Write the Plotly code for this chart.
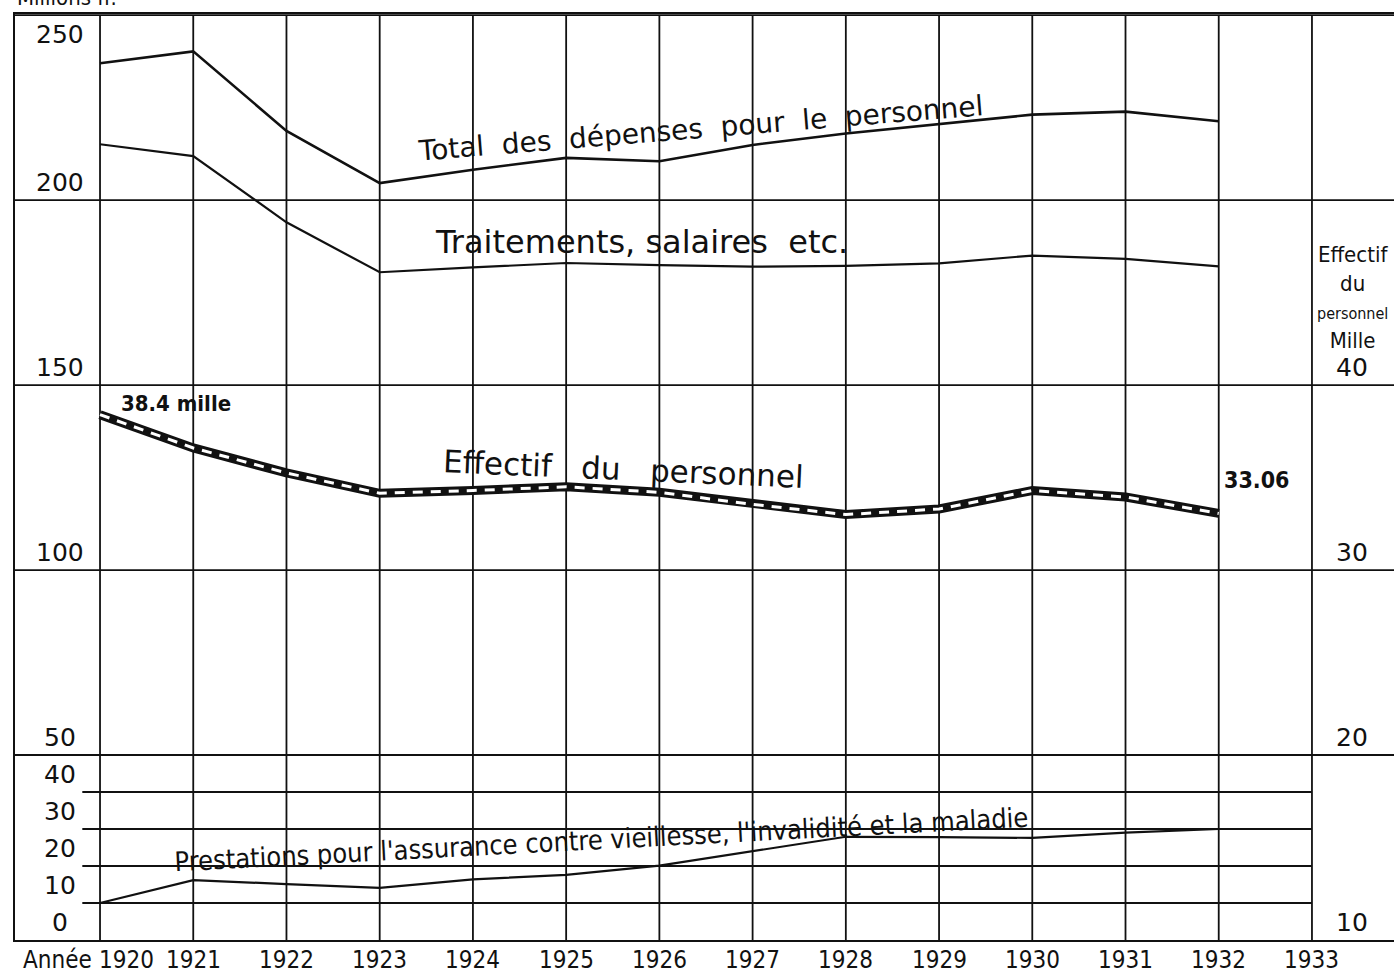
import plotly.graph_objects as go

# ---------------- data ----------------
years = [1920, 1921, 1922, 1923, 1924, 1925, 1926, 1927, 1928, 1929, 1930, 1931, 1932]
total_depenses = [237.0, 240.2, 218.7, 204.6, 208.2, 211.4, 210.5, 214.9, 218.0, 220.6, 223.1, 223.9, 221.3]
traitements = [215.1, 211.9, 194.0, 180.5, 181.8, 183.0, 182.4, 182.0, 182.2, 182.9, 185.0, 184.1, 182.1]
prestations = [10.0, 16.2, 15.1, 14.1, 16.4, 17.6, 20.1, 23.9, 27.9, 27.8, 27.6, 29.0, 30.0]
effectif_mille = [38.4, 36.6, 35.25, 34.15, 34.3, 34.5, 34.2, 33.55, 33.0, 33.3, 34.3, 33.95, 33.06]

year_ticks = [1920, 1921, 1922, 1923, 1924, 1925, 1926, 1927, 1928, 1929, 1930, 1931, 1932, 1933]
left_ticks_upper = [50, 100, 150, 200, 250]
left_ticks_lower = [0, 10, 20, 30, 40]
right_ticks = [10, 20, 30, 40]

# ---------------- style ----------------
NARROW = "Liberation Sans Narrow, DejaVu Sans Condensed, Arial Narrow, DejaVu Sans, sans-serif"
SANS = "DejaVu Sans, Verdana, sans-serif"
X_RANGE = [1919.088, 1933.88]
Y_RANGE = [0, 250.3]
Y2_RANGE = [10 + Y_RANGE[0] / 5, 10 + Y_RANGE[1] / 5]
LC = "#111111"

fig = go.Figure()

fig.add_trace(go.Scatter(x=years, y=total_depenses, mode="lines",
                         line=dict(color=LC, width=2.6), hoverinfo="skip", showlegend=False))
fig.add_trace(go.Scatter(x=years, y=traitements, mode="lines",
                         line=dict(color=LC, width=2.2), hoverinfo="skip", showlegend=False))
fig.add_trace(go.Scatter(x=years, y=prestations, mode="lines",
                         line=dict(color=LC, width=2.2), hoverinfo="skip", showlegend=False))
# Effectif: thick black band with white dashes inside
fig.add_trace(go.Scatter(x=years, y=effectif_mille, mode="lines", yaxis="y2",
                         line=dict(color=LC, width=9), hoverinfo="skip", showlegend=False))
fig.add_trace(go.Scatter(x=years, y=effectif_mille, mode="lines", yaxis="y2",
                         line=dict(color="white", width=3, dash="10px,8px"),
                         hoverinfo="skip", showlegend=False))

shapes = []
# vertical grid lines
for yr in year_ticks:
    shapes.append(dict(type="line", xref="x", yref="y", x0=yr, x1=yr, y0=0, y1=250,
                       line=dict(color=LC, width=1.8), layer="below"))
# full-width horizontal grid lines
for v in left_ticks_upper:
    shapes.append(dict(type="line", xref="paper", yref="y", x0=0, x1=1, y0=v, y1=v,
                       line=dict(color=LC, width=1.8), layer="below"))
# short lower grid lines (10..40)
for v in left_ticks_lower[1:]:
    shapes.append(dict(type="line", xref="x", yref="y", x0=1919.81, x1=1933, y0=v, y1=v,
                       line=dict(color=LC, width=1.8), layer="below"))

annotations = []
# left tick labels
for v in left_ticks_upper + left_ticks_lower:
    annotations.append(dict(x=1919.571, y=v, xref="x", yref="y", text=str(v), showarrow=False,
                            xanchor="center", yanchor="top" if v == 250 else "bottom",
                            yshift=-3 if v == 250 else 1,
                            font=dict(family=SANS, size=25, color=LC)))
# right tick labels
for v in right_ticks:
    annotations.append(dict(x=1933.43, y=v, xref="x", yref="y2", text=str(v), showarrow=False,
                            xanchor="center", yanchor="bottom", yshift=1,
                            font=dict(family=SANS, size=25, color=LC)))
# right axis title
annotations.append(dict(x=1933.43, y=40, xref="x", yref="y2",
                        text=("Effectif<br>du<br><span style='font-size:16px'>personnel</span>"
                              "<br>Mille"),
                        showarrow=False, xanchor="center", yanchor="bottom", align="center",
                        yshift=30, font=dict(family=NARROW, size=22, color=LC)))
# unit title (cut at the top edge like the original)
annotations.append(dict(x=0, y=1.0022, xref="paper", yref="paper", text="Millions fr.",
                        showarrow=False, xanchor="left", yanchor="bottom",
                        font=dict(family=NARROW, size=22, color=LC)))
# x-axis labels: "Année" then the years
annotations.append(dict(x=year_ticks[0], y=0, xref="x", yref="paper", text="Année",
                        showarrow=False, xanchor="right", yanchor="top", xshift=-6, yshift=-4,
                        font=dict(family=NARROW, size=24, color=LC)))
for i, yr in enumerate(year_ticks):
    annotations.append(dict(x=yr, y=0, xref="x", yref="paper", text=str(yr),
                            showarrow=False, xanchor="left" if i == 0 else "center",
                            xshift=-3 if i == 0 else 0, yanchor="top", yshift=-4,
                            font=dict(family=NARROW, size=24, color=LC)))
# series labels
annotations.append(dict(x=1926.44, y=219.4, xref="x", yref="y",
                        text="Total  des  dépenses  pour  le  personnel", showarrow=False,
                        textangle=-4.6, font=dict(family=SANS, size=28, color=LC)))
annotations.append(dict(x=1925.81, y=188.6, xref="x", yref="y",
                        text="Traitements, salaires  etc.", showarrow=False,
                        font=dict(family=SANS, size=32, color=LC)))
annotations.append(dict(x=1925.62, y=127.4, xref="x", yref="y",
                        text="Effectif   du   personnel", showarrow=False, textangle=2.5,
                        font=dict(family=SANS, size=31, color=LC)))
annotations.append(dict(x=1925.38, y=27.2, xref="x", yref="y",
                        text="Prestations pour l'assurance contre vieillesse, l'invalidité et la maladie",
                        showarrow=False, textangle=-3,
                        font=dict(family=NARROW, size=27, color=LC)))
annotations.append(dict(x=years[0], y=effectif_mille[0], xref="x", yref="y2",
                        text="<b>38.4 mille</b>", showarrow=False, xanchor="left", yanchor="bottom",
                        xshift=19, yshift=-3, font=dict(family=NARROW, size=22, color=LC)))
annotations.append(dict(x=years[-1], y=effectif_mille[-1], xref="x", yref="y2",
                        text="<b>33.06</b>", showarrow=False, xanchor="left", yanchor="bottom",
                        xshift=3, yshift=18, font=dict(family=NARROW, size=23, color=LC)))

fig.update_layout(
    template="none",
    width=1394, height=973,
    margin=dict(l=15, r=0, t=14, b=33, autoexpand=False),
    paper_bgcolor="white", plot_bgcolor="white",
    showlegend=False,
    shapes=shapes, annotations=annotations,
    xaxis=dict(range=X_RANGE, showticklabels=False,
               showgrid=False, zeroline=False, showline=True, linecolor=LC, linewidth=2,
               mirror=True, ticks="", automargin=False),
    yaxis=dict(range=Y_RANGE, showgrid=False, zeroline=False, showticklabels=False,
               showline=True, linecolor=LC, linewidth=2, mirror=True, ticks="", automargin=False),
    yaxis2=dict(range=Y2_RANGE, overlaying="y", side="right", showgrid=False, automargin=False,
                zeroline=False, showticklabels=False, showline=False, ticks=""),
)

fig.write_html("out.html", config={"displayModeBar": False},
               post_script="document.body.style.margin='0';document.body.style.overflow='hidden';")
